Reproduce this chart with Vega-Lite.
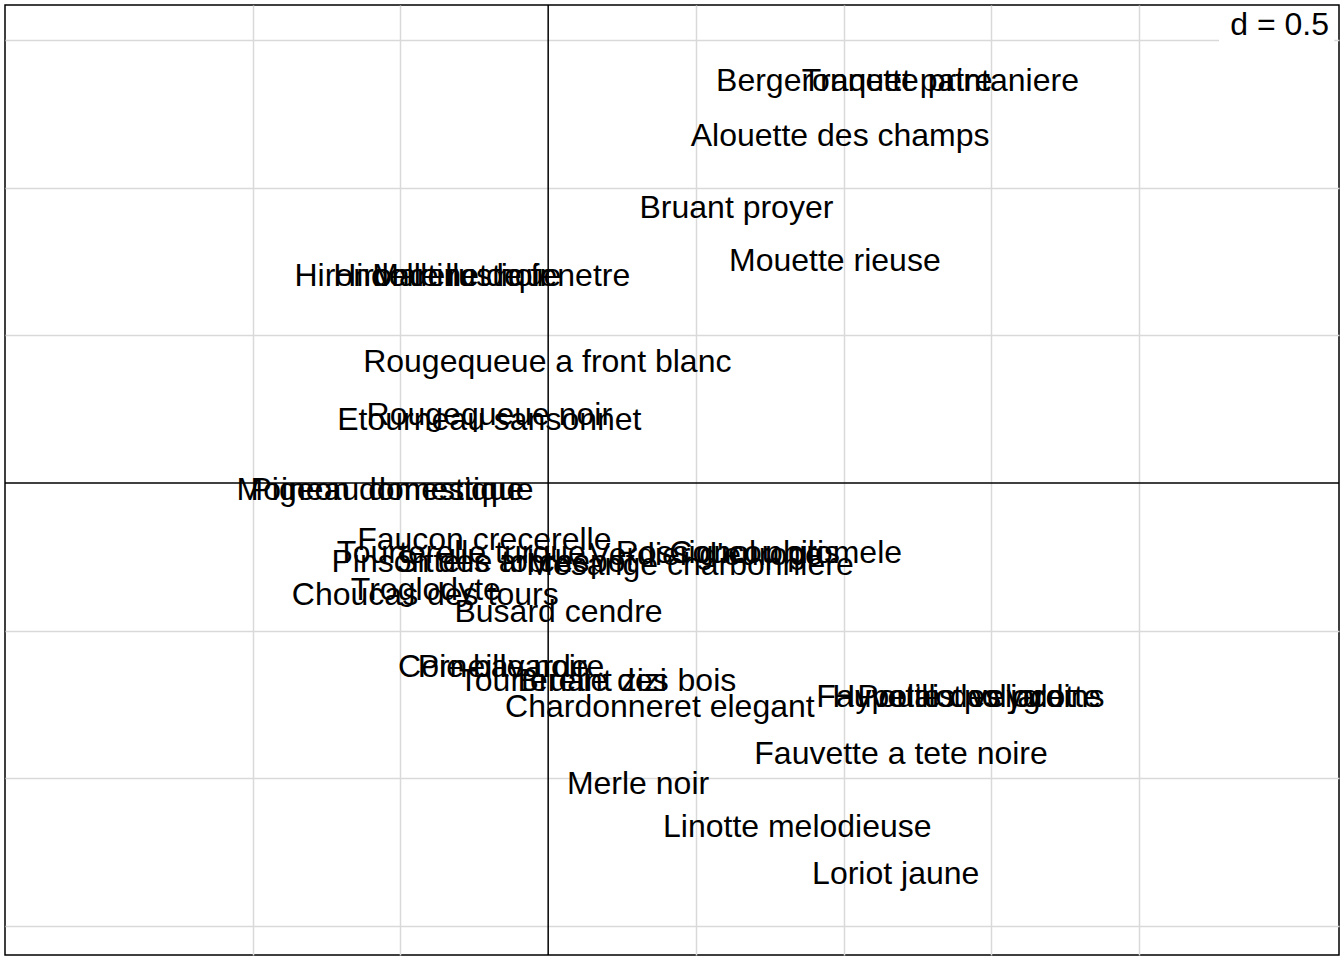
{
  "$schema": "https://vega.github.io/schema/vega-lite/v6.json",
  "width": 1344,
  "height": 960,
  "autosize": {"type": "fit", "contains": "padding"},
  "padding": 4,
  "background": "white",
  "config": {"view": {"stroke": "black", "strokeWidth": 1.5}},
  "datasets": {
    "birds": [
      {"label": "Bergeronnette printaniere", "x": 1.182, "y": 1.361},
      {"label": "Traquet patre", "x": 1.181, "y": 1.361},
      {"label": "Alouette des champs", "x": 0.988, "y": 1.176},
      {"label": "Bruant proyer", "x": 0.637, "y": 0.932},
      {"label": "Mouette rieuse", "x": 0.970, "y": 0.753},
      {"label": "Hirondelle de fenetre", "x": -0.225, "y": 0.699},
      {"label": "Hirondelle rustique", "x": -0.407, "y": 0.699},
      {"label": "Martinet noir", "x": -0.294, "y": 0.699},
      {"label": "Rougequeue a front blanc", "x": -0.003, "y": 0.409},
      {"label": "Etourneau sansonnet", "x": -0.199, "y": 0.213},
      {"label": "Rougequeue noir", "x": -0.199, "y": 0.230},
      {"label": "Moineau domestique", "x": -0.552, "y": -0.024},
      {"label": "Pigeon domestique", "x": -0.544, "y": -0.024},
      {"label": "Faucon crecerelle", "x": -0.216, "y": -0.193},
      {"label": "Tourterelle turque", "x": -0.294, "y": -0.236},
      {"label": "Pinson des arbres", "x": -0.297, "y": -0.267},
      {"label": "Sittelle torchepot", "x": -0.111, "y": -0.267},
      {"label": "Mesange charbonniere", "x": 0.480, "y": -0.277},
      {"label": "Verdier d'europe", "x": 0.534, "y": -0.243},
      {"label": "Rossignol philomele", "x": 0.713, "y": -0.236},
      {"label": "Coucou gris", "x": 0.699, "y": -0.236},
      {"label": "Choucas des tours", "x": -0.416, "y": -0.378},
      {"label": "Troglodyte", "x": -0.414, "y": -0.361},
      {"label": "Busard cendre", "x": 0.035, "y": -0.436},
      {"label": "Corneille noire", "x": -0.159, "y": -0.622},
      {"label": "Pie bavarde", "x": -0.152, "y": -0.622},
      {"label": "Tourterelle des bois", "x": 0.167, "y": -0.672},
      {"label": "Bruant zizi", "x": 0.149, "y": -0.672},
      {"label": "Chardonneret elegant", "x": 0.378, "y": -0.757},
      {"label": "Fauvette des jardins", "x": 1.395, "y": -0.726},
      {"label": "Hypolais polyglotte", "x": 1.416, "y": -0.726},
      {"label": "Pouillot veloce", "x": 1.395, "y": -0.726},
      {"label": "Fauvette a tete noire", "x": 1.194, "y": -0.919},
      {"label": "Merle noir", "x": 0.304, "y": -1.020},
      {"label": "Linotte melodieuse", "x": 0.843, "y": -1.166},
      {"label": "Loriot jaune", "x": 1.176, "y": -1.324}
    ],
    "one": [{"legend": "d = 0.5"}]
  },
  "data": {"name": "one"},
  "layer": [
    {
      "mark": {"type": "rect", "fill": "white", "stroke": null},
      "encoding": {
        "x": {"datum": 2.27, "type": "quantitative",
          "scale": {"domain": [-1.838, 2.676], "nice": false, "zero": false},
          "axis": {"values": [-1, -0.5, 0.5, 1, 1.5, 2], "grid": true, "gridColor": "#d9d9d9", "gridWidth": 1.5, "labels": false, "ticks": false, "domain": false, "title": null}},
        "x2": {"datum": 2.66},
        "y": {"datum": 1.48, "type": "quantitative",
          "scale": {"domain": [-1.598, 1.618], "nice": false, "zero": false},
          "axis": {"values": [-1.5, -1, -0.5, 0.5, 1, 1.5], "grid": true, "gridColor": "#d9d9d9", "gridWidth": 1.5, "labels": false, "ticks": false, "domain": false, "title": null}},
        "y2": {"datum": 1.605}
      }
    },
    {
      "mark": {"type": "rule", "color": "black", "strokeWidth": 1.5},
      "encoding": {"y": {"datum": 0, "type": "quantitative"}}
    },
    {
      "mark": {"type": "rule", "color": "black", "strokeWidth": 1.5},
      "encoding": {"x": {"datum": 0, "type": "quantitative"}}
    },
    {
      "mark": {"type": "text", "font": "Liberation Sans", "fontSize": 32, "align": "right", "baseline": "middle", "color": "black"},
      "encoding": {
        "x": {"datum": 2.642, "type": "quantitative"},
        "y": {"datum": 1.551, "type": "quantitative"},
        "text": {"field": "legend"}
      }
    },
    {
      "data": {"name": "birds"},
      "mark": {"type": "text", "font": "Liberation Sans", "fontSize": 32, "align": "center", "baseline": "middle", "color": "black"},
      "encoding": {
        "x": {"field": "x", "type": "quantitative"},
        "y": {"field": "y", "type": "quantitative"},
        "text": {"field": "label"}
      }
    }
  ]
}
